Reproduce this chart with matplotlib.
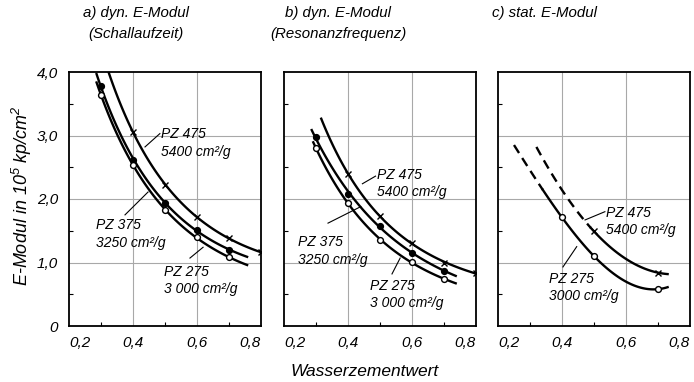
"""E-Modul versus Wasserzementwert for three cements, three panels."""
import matplotlib
matplotlib.use("Agg")
import matplotlib.pyplot as plt
import numpy as np
from matplotlib.ticker import MultipleLocator

plt.rcParams["font.family"] = ["Liberation Sans", "DejaVu Sans"]
plt.rcParams["font.style"] = "italic"
plt.rcParams["mathtext.fontset"] = "custom"
plt.rcParams["mathtext.rm"] = "Liberation Sans:italic"
plt.rcParams["mathtext.default"] = "rm"

# panel titles and axis text
titles = ["a) dyn. E-Modul\n(Schallaufzeit)",
          "b) dyn. E-Modul\n(Resonanzfrequenz)",
          "c) stat. E-Modul"]
x_ticks = [0.2, 0.4, 0.6, 0.8]
x_labels = ["0,2", "0,4", "0,6", "0,8"]
y_ticks = [0, 1, 2, 3, 4]
y_labels = ["0", "1,0", "2,0", "3,0", "4,0"]

# panel a (Schallaufzeit)
a_x = [0.3, 0.4, 0.5, 0.6, 0.7]
a_pz475_x = [0.4, 0.5, 0.6, 0.7, 0.8]
a_pz475 = [3.06, 2.22, 1.72, 1.38, 1.16]
a_pz375 = [3.78, 2.62, 1.94, 1.51, 1.20]
a_pz275 = [3.64, 2.54, 1.82, 1.40, 1.08]

# panel b (Resonanzfrequenz)
b_x = [0.3, 0.4, 0.5, 0.6, 0.7]
b_pz475_x = [0.4, 0.5, 0.6, 0.7, 0.8]
b_pz475 = [2.39, 1.74, 1.30, 1.00, 0.83]
b_pz375 = [2.97, 2.08, 1.58, 1.15, 0.87]
b_pz275 = [2.80, 1.94, 1.35, 1.01, 0.74]

# panel c (statisch): curve knots and measured points
c_pz275_knot_x = [0.25, 0.4, 0.5, 0.7]
c_pz275_knot_y = [2.85, 1.71, 1.10, 0.58]
c_pz275_pts_x = [0.4, 0.5, 0.7]
c_pz275_pts_y = [1.71, 1.10, 0.58]
c_pz475_knot_x = [0.32, 0.5, 0.7]
c_pz475_knot_y = [2.82, 1.49, 0.84]
c_pz475_pts_x = [0.5, 0.7]
c_pz475_pts_y = [1.49, 0.84]

LW = 1.7
MS = 4.2


def smooth(ax, xs, ys, x0, x1, deg=2):
    """Draw a smooth curve fitted (in log space) through the read points."""
    p = np.polyfit(np.asarray(xs), np.log(np.asarray(ys)), deg)
    xx = np.linspace(x0, x1, 120)
    ax.plot(xx, np.exp(np.polyval(p, xx)), color="black", lw=LW,
            solid_capstyle="butt")


def marks(ax, xs, ys, kind):
    if kind == "filled":
        ax.plot(xs, ys, "o", ms=MS, mfc="black", mec="black", zorder=5)
    elif kind == "open":
        ax.plot(xs, ys, "o", ms=MS, mfc="white", mec="black", mew=1.0, zorder=5)
    else:
        ax.plot(xs, ys, "x", ms=MS, mec="black", mew=1.0, zorder=5)


def label(ax, x, y, text, line):
    ax.text(x, y, text, ha="left", va="center", fontsize=10, linespacing=1.3)
    ax.plot(line[0], line[1], color="black", lw=0.8)


fig = plt.figure(figsize=(6.94, 3.82), dpi=100)
lefts = [69, 284, 498]
title_x = [136, 338, 545]
axes = []
for i, lft in enumerate(lefts):
    ax = fig.add_axes([lft / 694, 1 - 326 / 382, 192 / 694, 254 / 382])
    ax.set_xlim(0.2, 0.8)
    ax.set_ylim(0, 4)
    for gx in (0.4, 0.6):
        ax.axvline(gx, color="#a8a8a8", lw=0.8, zorder=0)
    for gy in (1, 2, 3):
        ax.axhline(gy, color="#a8a8a8", lw=0.8, zorder=0)
    for s in ax.spines.values():
        s.set_linewidth(1.3)
    ax.set_xticks(x_ticks)
    ax.set_xticklabels(x_labels, fontsize=11)
    tl = ax.get_xticklabels()
    tl[0].set_ha("left")
    tl[-1].set_ha("right")
    ax.xaxis.set_minor_locator(MultipleLocator(0.1))
    ax.yaxis.set_minor_locator(MultipleLocator(0.5))
    ax.tick_params(which="both", direction="in", length=3, width=0.8)
    ax.tick_params(axis="x", which="major", length=0, pad=7)
    ax.tick_params(axis="y", which="major", length=0, pad=8)
    ax.set_yticks(y_ticks)
    if i == 0:
        ax.set_yticklabels(y_labels, fontsize=11)
    else:
        ax.set_yticklabels([])
    fig.text(title_x[i] / 694, 1 - 6 / 382, titles[i], ha="center", va="top",
             fontsize=10.8, linespacing=1.6, multialignment="center")
    axes.append(ax)

# panel a
ax = axes[0]
smooth(ax, a_pz475_x, a_pz475, 0.318, 0.8)
smooth(ax, a_x, a_pz375, 0.285, 0.76)
smooth(ax, a_x, a_pz275, 0.285, 0.76)
marks(ax, a_pz475_x, a_pz475, "cross")
marks(ax, a_x, a_pz375, "filled")
marks(ax, a_x, a_pz275, "open")
label(ax, 0.487, 2.88, "PZ 475\n5400 cm²/g", ([0.484, 0.4375], [3.03, 2.82]))
label(ax, 0.284, 1.45, "PZ 375\n3250 cm²/g", ([0.375, 0.447], [1.75, 2.11]))
label(ax, 0.497, 0.72, "PZ 275\n3 000 cm²/g", ([0.578, 0.619], [1.07, 1.24]))

# panel b
ax = axes[1]
smooth(ax, b_pz475_x, b_pz475, 0.315, 0.8)
smooth(ax, b_x, b_pz375, 0.285, 0.74)
smooth(ax, b_x, b_pz275, 0.29, 0.74)
marks(ax, b_pz475_x, b_pz475, "cross")
marks(ax, b_x, b_pz375, "filled")
marks(ax, b_x, b_pz275, "open")
label(ax, 0.492, 2.24, "PZ 475\n5400 cm²/g", ([0.486, 0.445], [2.36, 2.24]))
label(ax, 0.245, 1.18, "PZ 375\n3250 cm²/g", ([0.3375, 0.44], [1.62, 1.88]))
label(ax, 0.47, 0.50, "PZ 275\n3 000 cm²/g", ([0.5375, 0.563], [0.82, 1.07]))

# panel c
ax = axes[2]
p275 = np.polyfit(c_pz275_knot_x, c_pz275_knot_y, 3)
xx = np.linspace(0.25, 0.34, 30)
ax.plot(xx, np.polyval(p275, xx), color="black", lw=LW, ls=(0, (4, 2.5)))
xx = np.linspace(0.34, 0.73, 100)
ax.plot(xx, np.polyval(p275, xx), color="black", lw=LW)
p475 = np.polyfit(c_pz475_knot_x, c_pz475_knot_y, 2)
xx = np.linspace(0.32, 0.49, 40)
ax.plot(xx, np.polyval(p475, xx), color="black", lw=LW, ls=(0, (4, 2.5)))
xx = np.linspace(0.49, 0.73, 80)
ax.plot(xx, np.polyval(p475, xx), color="black", lw=LW)
marks(ax, c_pz275_pts_x, c_pz275_pts_y, "open")
marks(ax, c_pz475_pts_x, c_pz475_pts_y, "cross")
label(ax, 0.5375, 1.65, "PZ 475\n5400 cm²/g", ([0.534, 0.472], [1.80, 1.67]))
label(ax, 0.36, 0.61, "PZ 275\n3000 cm²/g", ([0.403, 0.446], [0.93, 1.25]))

fig.text(22 / 694, 1 - 196 / 382, r"E-Modul in 10$^5$ kp/cm$^2$",
         rotation=90, ha="center", va="center", fontsize=13)
fig.text(365 / 694, 1 - 371 / 382, "Wasserzementwert",
         ha="center", va="center", fontsize=12.5)

fig.savefig("out.png", dpi=100)
